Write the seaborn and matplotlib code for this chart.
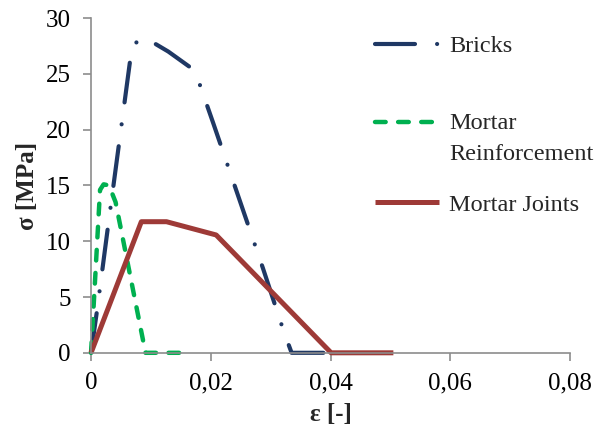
import matplotlib
matplotlib.use("Agg")
import matplotlib.pyplot as plt
import seaborn as sns
from matplotlib.legend_handler import HandlerLine2D

# Stress-strain curves (strain [-], stress [MPa])
bricks_eps = [0.0, 0.0010, 0.0029, 0.0068, 0.0080, 0.0096, 0.0129, 0.0168, 0.0178,
              0.0204, 0.0287, 0.0322, 0.0335, 0.0400]
bricks_sig = [0.0, 3.8, 11.6, 27.3, 28.1, 28.05, 27.0, 25.5, 24.6,
              20.6, 7.6, 1.9, 0.0, 0.0]

mortar_reinf_eps = [0.0, 0.0015, 0.0021, 0.0030, 0.0041, 0.0091, 0.0166]
mortar_reinf_sig = [0.0, 14.6, 15.1, 15.0, 13.5, 0.0, 0.0]

mortar_joints_eps = [0.0, 0.0084, 0.0126, 0.0209, 0.0401, 0.0505]
mortar_joints_sig = [0.0, 11.75, 11.75, 10.56, 0.0, 0.0]

series_labels = ["Bricks", "Mortar\nReinforcement", "Mortar Joints"]

x_ticks = [0.0, 0.02, 0.04, 0.06, 0.08]
x_tick_labels = ["0", "0,02", "0,04", "0,06", "0,08"]
y_ticks = [0, 5, 10, 15, 20, 25, 30]
y_tick_labels = ["0", "5", "10", "15", "20", "25", "30"]


class FirstLineHandler(HandlerLine2D):
    """Legend line raised so it sits beside the first line of a two-line label."""

    def __init__(self, shift, **kw):
        super().__init__(**kw)
        self.shift = shift

    def create_artists(self, legend, orig_handle, xdescent, ydescent, width,
                       height, fontsize, trans):
        artists = super().create_artists(legend, orig_handle, xdescent, ydescent,
                                         width, height, fontsize, trans)
        for a in artists:
            xd, yd = a.get_data()
            a.set_data(xd, [v + self.shift for v in yd])
        return artists


sns.set_theme(style="white")
plt.rcParams["font.family"] = ["Liberation Serif", "DejaVu Serif"]

fig = plt.figure(figsize=(6.07, 4.41), dpi=100)
ax = fig.add_axes([0.150, 0.200, 0.789, 0.759])

blue = "#1F3864"
green = "#00B050"
red = "#9E3A37"

sns.lineplot(x=bricks_eps, y=bricks_sig, ax=ax, color=blue, linewidth=3.0,
             sort=False, estimator=None, label=series_labels[0])
sns.lineplot(x=mortar_reinf_eps, y=mortar_reinf_sig, ax=ax, color=green, linewidth=3.2,
             sort=False, estimator=None, label=series_labels[1])
sns.lineplot(x=mortar_joints_eps, y=mortar_joints_sig, ax=ax, color=red, linewidth=3.6,
             sort=False, estimator=None, label=series_labels[2])

ln_b, ln_g, ln_r = ax.lines[:3]
ln_b.set_dashes([9.6, 5.3, 0.01, 5.3])
ln_b.set_dash_capstyle("round")
ln_g.set_dashes([2.4, 2.8])
ln_g.set_dash_capstyle("round")
ln_r.set_solid_capstyle("butt")
for ln in (ln_b, ln_g, ln_r):
    ln.set_clip_on(False)

ax.set_xlim(0, 0.08)
ax.set_ylim(0, 30)
ax.set_xticks(x_ticks)
ax.set_xticklabels(x_tick_labels)
ax.set_yticks(y_ticks)
ax.set_yticklabels(y_tick_labels)

spine_c = "#8C8C8C"
for side in ("top", "right"):
    ax.spines[side].set_visible(False)
for side in ("left", "bottom"):
    ax.spines[side].set_color(spine_c)
    ax.spines[side].set_linewidth(1.2)
ax.tick_params(axis="both", which="major", direction="out", length=5.5, width=1.2,
               color=spine_c, labelsize=18, labelcolor="black",
               bottom=True, left=True)
ax.tick_params(axis="x", pad=8.5)
ax.tick_params(axis="y", pad=9)

ax.set_xlabel("ε [-]", fontsize=18, fontweight="bold", labelpad=6)
ax.set_ylabel("σ [MPa]", fontsize=18, fontweight="bold", labelpad=5)

leg_kw = dict(bbox_transform=fig.transFigure, frameon=False, fontsize=17.5,
              handlelength=2.65, handletextpad=0.4, borderpad=0,
              borderaxespad=0, loc="upper left")

leg1 = ax.legend(handles=[ln_b], labels=series_labels[:1],
                 bbox_to_anchor=(375 / 607, 1 - 35 / 441), **leg_kw)
ax.add_artist(leg1)

leg2 = ax.legend(handles=[ln_g, ln_r], labels=series_labels[1:],
                 bbox_to_anchor=(375 / 607, 1 - 113 / 441), labelspacing=1.2,
                 handler_map={ln_g: FirstLineHandler(11.5)}, **leg_kw)
for t in leg2.get_texts():
    t.set_linespacing(1.6)

fig.savefig("out.png", dpi=100)
